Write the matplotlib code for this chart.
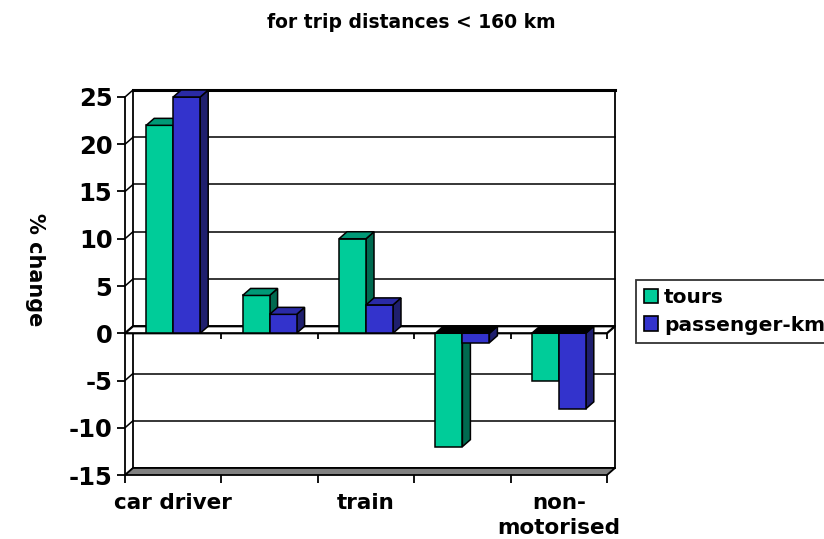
import numpy as np
import matplotlib
matplotlib.use('Agg')
import matplotlib.pyplot as plt
from matplotlib.patches import Patch

# % change by mode, trips < 160 km
categories = ['car driver', '', 'train', '', 'non-\nmotorised']
tours = [22, 4, 10, -12, -5]
pkm = [25, 2, 3, -1, -8]
series_names = ['tours', 'passenger-km']

yticks = [-15, -10, -5, 0, 5, 10, 15, 20, 25]

# face, side, top colours for each series
green = ('#00cc99', '#006a50', '#009977')
blue = ('#3333cc', '#1f1f6e', '#2a2aa6')

plt.rcParams['font.family'] = 'DejaVu Sans'
plt.rcParams['font.weight'] = 'bold'

W, H = 824, 539
fig = plt.figure(figsize=(W / 100, H / 100), dpi=100)
x0, x1, y0, y1 = 125, 607, 97, 475
ax = fig.add_axes([x0 / W, 1 - y1 / H, (x1 - x0) / W, (y1 - y0) / H])
ax.set_xlim(0, 5)
ax.set_ylim(-15, 25)

# depth offset of the 3d effect, in data units
dx = 8 / ((x1 - x0) / 5)
dy = 7 / ((y1 - y0) / 40)

for s in ['top', 'right', 'bottom']:
    ax.spines[s].set_visible(False)
ax.spines['left'].set_linewidth(1.3)
ax.spines['left'].set_zorder(10)

# back wall and grid
ax.fill([dx, 5 + dx, 5 + dx, dx], [-15 + dy, -15 + dy, 25 + dy, 25 + dy],
        facecolor='white', edgecolor='black', lw=1.3, clip_on=False, zorder=0)
ax.plot([dx, 5 + dx], [25 + dy, 25 + dy], color='black', lw=2.2, clip_on=False, zorder=1)
for t in yticks:
    ax.plot([dx, 5 + dx], [t + dy, t + dy], color='black', lw=1.1, clip_on=False, zorder=1)
    ax.plot([0, dx], [t, t + dy], color='black', lw=1.1, clip_on=False, zorder=1)

# floor at -15
ax.fill([0, 5, 5 + dx, dx], [-15, -15, -15 + dy, -15 + dy],
        facecolor='#808080', edgecolor='black', lw=1.3, clip_on=False, zorder=2)
# plane at zero
ax.fill([0, 5, 5 + dx, dx], [0, 0, dy, dy],
        facecolor='white', edgecolor='black', lw=1.6, clip_on=False, zorder=2)
ax.vlines(np.arange(1, 6), -0.65, 0, color='black', lw=1.3, zorder=2, clip_on=False)

bw = 0.28
pos = np.arange(len(categories)) + 0.5
z = 3
for i in range(len(categories)):
    for vals, cols, off in [(tours, green, -bw), (pkm, blue, 0.0)]:
        v = vals[i]
        left = pos[i] + off
        right = left + bw
        ax.bar(left, v, width=bw, align='edge', color=cols[0],
               edgecolor='black', lw=1.1, zorder=z + 1, clip_on=False)
        # side face
        ax.fill([right, right + dx, right + dx, right], [0, dy, v + dy, v],
                facecolor=cols[1], edgecolor='black', lw=1.1, zorder=z, clip_on=False)
        # top face
        top = max(v, 0)
        tc = cols[2] if v > 0 else 'black'
        ax.fill([left, right, right + dx, left + dx], [top, top, top + dy, top + dy],
                facecolor=tc, edgecolor='black', lw=1.1, zorder=z + 1, clip_on=False)
        z += 2

# axes ticks and labels
ax.set_yticks(yticks)
ax.set_yticklabels([str(t) for t in yticks], fontsize=17.5, fontweight='bold')
ax.tick_params(axis='y', direction='out', length=6, width=1.3, pad=3)
ax.set_xticks(np.arange(0, 6))
ax.set_xticklabels([])
ax.tick_params(axis='x', which='major', direction='out', length=6, width=1.3)
ax.set_xticks(pos, minor=True)
ax.set_xticklabels(categories, minor=True, fontsize=15.5, fontweight='bold',
                   va='top', linespacing=1.3)
ax.tick_params(axis='x', which='minor', length=0, pad=13)

fig.text(35 / W, 1 - 270 / H, '% change', rotation=-90, fontsize=15,
         fontweight='bold', ha='center', va='center')
fig.text(411 / W, 1 - 22 / H, 'for trip distances < 160 km', fontsize=13.5,
         fontweight='bold', ha='center', va='center')

leg_handles = [Patch(facecolor=green[0], edgecolor='black', lw=1.2),
               Patch(facecolor=blue[0], edgecolor='black', lw=1.2)]
leg = fig.legend(leg_handles, series_names, loc='upper left',
                 bbox_to_anchor=(636 / W, 1 - 280 / H),
                 prop={'weight': 'bold', 'size': 14.5},
                 frameon=True, fancybox=False, edgecolor='black',
                 handlelength=0.7, handleheight=0.7, handletextpad=0.3,
                 borderpad=0.4, labelspacing=0.42, borderaxespad=0)
leg.get_frame().set_linewidth(1.3)

fig.savefig('out.png', dpi=100)
